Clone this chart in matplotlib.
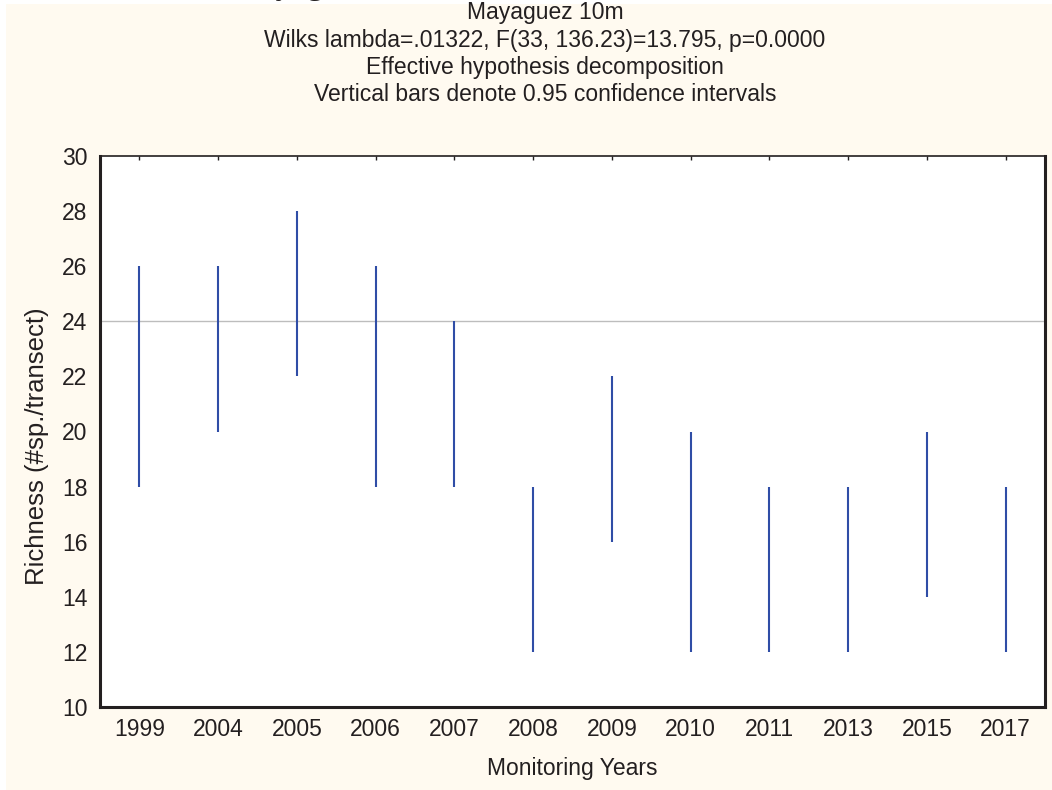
import numpy as np
import matplotlib.pyplot as plt
from matplotlib.patches import Rectangle

# years and 0.95 confidence limits
years = ['1999', '2004', '2005', '2006', '2007', '2008', '2009', '2010', '2011', '2013', '2015', '2017']
low = [18, 20, 22, 18, 18, 12, 16, 12, 12, 12, 14, 12]
high = [26, 26, 28, 26, 24, 18, 22, 20, 18, 18, 20, 18]
ref_line = 24

cream = '#fffaf0'
fig = plt.figure(figsize=(10.52, 7.90), dpi=100, facecolor='white')
fig.patches.append(Rectangle((6 / 1052, 0), 1, 1 - 4 / 790, transform=fig.transFigure,
                             facecolor=cream, edgecolor='none', zorder=-10))

ax = fig.add_axes([100 / 1052, 1 - 707 / 790, 945 / 1052, 551 / 790])
ax.set_facecolor('white')

x = np.arange(len(years))
ax.axhline(ref_line, color='#bdbdbd', lw=1.0, zorder=1)
ax.vlines(x, low, high, color='#2f4da6', lw=1.5, zorder=2)

ax.set_xlim(-0.5, len(years) - 0.5)
ax.set_ylim(10, 30)
ax.set_yticks(np.arange(10, 31, 2))
ax.set_xticks(x)
ax.set_xticklabels(years)

fs = 16.5
ax.tick_params(axis='y', length=0, labelsize=fs, pad=9, colors='#231f20')
ax.tick_params(axis='x', bottom=False, top=True, direction='in', length=3,
               width=1, labelsize=fs, pad=8, colors='#231f20')

for side, w in [('left', 2.2), ('bottom', 2.2), ('right', 2.2), ('top', 1.2)]:
    ax.spines[side].set_linewidth(w)
    ax.spines[side].set_color('#231f20')

fam = 'Liberation Sans'
for k, s in enumerate(['Mayaguez 10m',
                       'Wilks lambda=.01322, F(33, 136.23)=13.795, p=0.0000',
                       'Effective hypothesis decomposition',
                       'Vertical bars denote 0.95 confidence intervals']):
    fig.text(545 / 1052, 1 - (13 + 27.3 * k) / 790, s, ha='center', va='center',
             fontsize=16.5, family=fam, color='#231f20')

fig.text(572 / 1052, 1 - 769 / 790, 'Monitoring Years', ha='center', va='center',
         fontsize=16.5, family=fam, color='#231f20')
fig.text(37 / 1052, 1 - 446 / 790, 'Richness (#sp./transect)', ha='center', va='center',
         rotation=90, fontsize=18.5, family=fam, color='#231f20')

# clipped heading left over from the page above
fig.text(300 / 1052, 1 + 6 / 790, 'Mayaguez', ha='center', va='baseline',
         fontsize=24, family='Liberation Serif', color='#231f20')

for t in ax.get_xticklabels() + ax.get_yticklabels():
    t.set_family(fam)

plt.savefig('out.png', dpi=100, facecolor=fig.get_facecolor())
